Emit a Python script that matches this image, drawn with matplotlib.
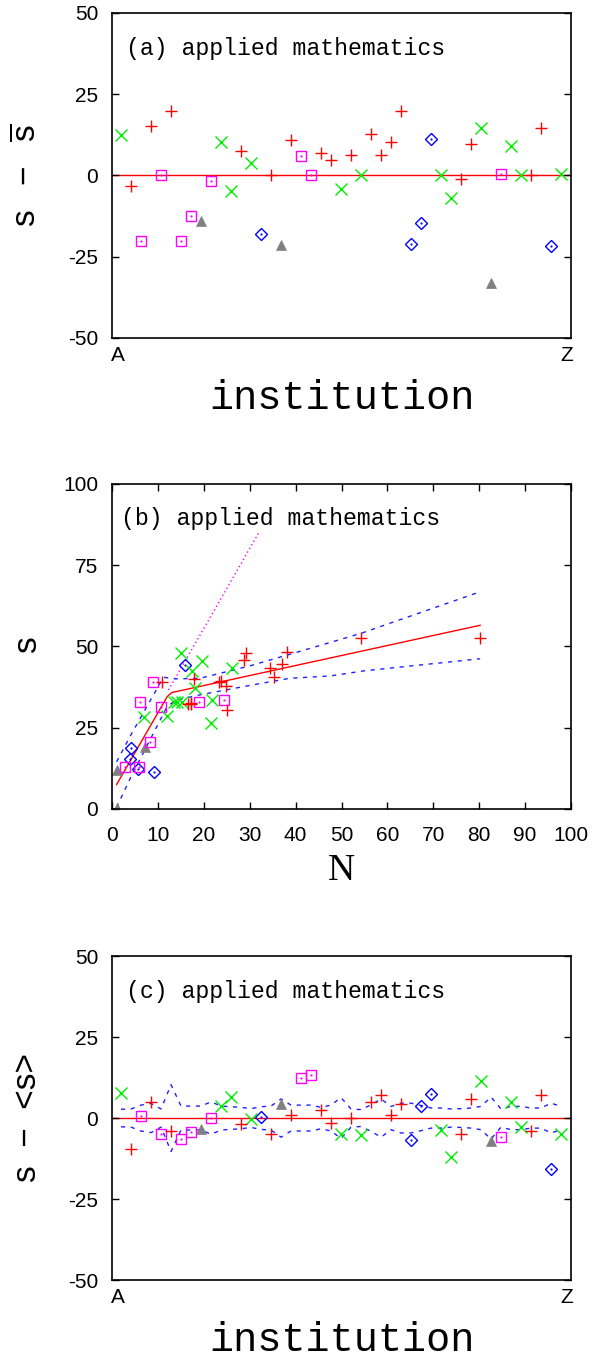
import numpy as np
import matplotlib.pyplot as plt

plt.rcParams['font.family'] = ['Liberation Sans', 'DejaVu Sans']
plt.rcParams['mathtext.fontset'] = 'custom'
plt.rcParams['mathtext.rm'] = 'Liberation Sans'
plt.rcParams['axes.unicode_minus'] = False

# marker class of each institution, in A..Z order
inst_class = ['x', '+', 'sq', '+', 'sq', '+', 'sq', 'sq', 'tri', 'sq',
              'x', 'x', '+', 'x', 'dia', '+', 'tri', '+', 'sq', 'sq',
              '+', '+', 'x', '+', 'x', '+', '+', '+', '+', 'dia',
              'dia', 'dia', 'x', 'x', '+', '+', 'x', 'tri', 'sq', 'x',
              'x', '+', '+', 'dia', 'x']

# (a) s - mean(s)
dev_a = [12.5, -3.2, -20.3, 15.3, 0.0, 19.7, -20.3, -12.6, -14.1, -1.8,
         10.4, -4.7, 7.5, 3.8, -18.0, 0.0, -21.5, 11.0, 6.1, 0.0,
         6.9, 4.7, -4.1, 6.2, 0.0, 12.6, 6.2, 10.4, 19.7, -21.0,
         -14.5, 11.2, 0.0, -6.9, -1.0, 9.6, 14.7, -33.0, 0.5, 9.0,
         0.0, 0.0, 14.7, -21.8, 0.5]

# (c) s - <s> and the band width
dev_c = [7.8, -9.4, 0.5, 4.9, -4.8, -4.0, -6.4, -4.4, -3.3, 0.1,
         3.7, 6.5, -1.9, -0.2, 0.3, -4.8, 4.4, 0.9, 12.3, 13.2,
         2.4, -1.6, -5.0, 0.1, -5.1, 5.1, 7.2, 1.0, 4.2, -6.9,
         3.8, 7.5, -3.6, -12.0, -4.8, 5.9, 11.4, -7.0, -5.7, 4.9,
         -2.8, -4.0, 7.0, -15.7, -5.0]
sigma_c = [2.7, 2.8, 4.0, 4.5, 2.8, 10.3, 3.7, 3.7, 3.7, 5.0,
           3.7, 3.5, 3.3, 2.9, 3.5, 3.7, 5.9, 4.0, 4.0, 4.0,
           3.3, 4.0, 6.3, 2.8, 2.6, 4.1, 5.9, 3.6, 4.6, 4.6,
           3.9, 3.1, 3.1, 2.8, 2.9, 3.1, 3.6, 6.5, 2.8, 3.6,
           3.6, 3.1, 3.1, 4.6, 3.6]

# (b) s vs N, by marker class
N_b = {
    '+': [10.8, 16.6, 17.1, 17.9, 23.3, 24.8, 25.0, 28.8, 29.1, 34.4,
          35.3, 37.0, 38.1, 54.2, 80.2, 17.3, 23.8],
    'x': [6.9, 11.9, 15.0, 17.4, 19.7, 18.1, 13.4, 15.3, 21.7, 21.5,
          26.1, 14.2],
    'sq': [2.9, 5.8, 8.2, 6.1, 9.0, 10.6, 19.0, 24.4],
    'dia': [4.1, 4.0, 5.7, 9.1, 16.0],
    'tri': [1.0, 1.0, 7.1],
}
s_b = {
    '+': [39.2, 32.2, 32.2, 39.9, 39.1, 37.8, 30.3, 45.8, 47.9, 43.3,
          40.7, 44.5, 48.4, 52.7, 52.7, 32.6, 39.4],
    'x': [28.4, 28.6, 47.9, 42.3, 45.6, 37.1, 32.8, 32.8, 33.5, 26.4,
          43.5, 33.0],
    'sq': [12.8, 12.8, 20.7, 32.8, 39.2, 31.3, 32.8, 33.5],
    'dia': [18.7, 15.3, 12.3, 11.4, 44.3],
    'tri': [0.3, 12.0, 19.0],
}

# fitted segmented line and its band
fit_N = [1.0, 12.0, 13.0, 80.2]
fit_s = [7.5, 34.5, 35.8, 56.5]
up_N = [1.0, 4.0, 8.0, 11.2, 14.0, 19.2, 30.0, 38.8, 47.5, 54.2, 80.2]
up_s = [14.5, 22.5, 32.5, 40.5, 40.0, 40.2, 44.0, 47.6, 51.2, 54.0, 66.8]
lo_N = [1.0, 4.0, 8.0, 12.0, 14.0, 19.2, 30.0, 38.8, 47.5, 55.0, 80.2]
lo_s = [0.5, 9.5, 20.5, 31.5, 33.5, 35.1, 38.0, 40.2, 40.9, 42.5, 46.2]
ext_N = [12.3, 31.9]
ext_s = [36.6, 84.8]

styles = {
    '+': dict(marker='+', color='#ff0000', ms=9, mew=1.0),
    'x': dict(marker='x', color='#00ee00', ms=8.5, mew=1.0),
    'sq': dict(marker='s', color='#ff00ff', ms=7.8, mew=1.0, mfc='none'),
    'dia': dict(marker='D', color='#0000ff', ms=5.7, mew=1.0, mfc='none'),
    'tri': dict(marker='^', color='#808080', ms=7.0, mew=0.5),
}
order = ['tri', 'dia', 'sq', 'x', '+']

mono = 'Liberation Mono'


def draw_points(ax, xs, ys, cls):
    ax.plot(xs, ys, ls='none', **styles[cls])
    if cls in ('sq', 'dia'):
        ax.plot(xs, ys, ls='none', marker='.', ms=1.2, color=styles[cls]['color'])


def style_axes(ax):
    for sp in ax.spines.values():
        sp.set_linewidth(1.2)
    ax.tick_params(direction='in', length=5, width=1, labelsize=15,
                   top=True, right=True)


def institution_panel(ax, vals, tag):
    x = np.arange(1, len(vals) + 1)
    vals = np.array(vals)
    cls = np.array(inst_class)
    ax.axhline(0, color='#ff0000', lw=1.0, zorder=1)
    for c in order:
        m = cls == c
        draw_points(ax, x[m], vals[m], c)
    ax.set_xlim(0.1, 46.0)
    ax.set_ylim(-50, 50)
    ax.set_yticks([-50, -25, 0, 25, 50])
    ax.set_xticks([0.7, 45.6])
    ax.set_xticklabels(['A', 'Z'])
    style_axes(ax)
    ax.tick_params(axis='y', pad=10)
    ax.tick_params(axis='x', length=0, pad=6)
    ax.text(0.0305, 0.892, tag + ' applied mathematics', transform=ax.transAxes,
            family=mono, fontsize=16.7, va='center', ha='left')


fig = plt.figure(figsize=(5.94, 13.6), dpi=100)
ax_a = fig.add_axes([0.1886, 0.7515, 0.7727, 0.2390])
ax_b = fig.add_axes([0.1886, 0.4052, 0.7727, 0.2390])
ax_c = fig.add_axes([0.1886, 0.0588, 0.7727, 0.2382])

# (a)
institution_panel(ax_a, dev_a, '(a)')

# (b)
ax_b.plot(ext_N, ext_s, ls=(0, (1, 2)), color='#ff00ff', lw=1.0)
ax_b.plot(up_N, up_s, ls=(0, (3, 4)), color='#2020ff', lw=1.0)
ax_b.plot(lo_N, lo_s, ls=(0, (3, 4)), color='#2020ff', lw=1.0)
ax_b.plot(fit_N, fit_s, color='#ff0000', lw=1.0)
for c in order:
    draw_points(ax_b, N_b[c], s_b[c], c)
ax_b.set_xlim(0, 100)
ax_b.set_ylim(0, 100)
ax_b.set_xticks(np.arange(0, 101, 10))
ax_b.set_yticks([0, 25, 50, 75, 100])
style_axes(ax_b)
ax_b.tick_params(axis='y', pad=10)
ax_b.tick_params(axis='x', pad=12)
ax_b.text(0.02, 0.895, '(b) applied mathematics', transform=ax_b.transAxes,
          family=mono, fontsize=16.7, va='center', ha='left')

# (c)
xc = np.arange(1, len(dev_c) + 1)
sig = np.array(sigma_c)
ax_c.plot(xc, sig, ls=(0, (3, 4)), color='#2020ff', lw=1.0)
ax_c.plot(xc, -sig, ls=(0, (3, 4)), color='#2020ff', lw=1.0)
institution_panel(ax_c, dev_c, '(c)')

# axis titles
fig.text(0.575, 0.7074, 'institution', family=mono, fontsize=29,
         ha='center', va='center')
fig.text(0.575, 0.0147, 'institution', family=mono, fontsize=29,
         ha='center', va='center')
fig.text(0.575, 0.360, 'N', family='Liberation Serif', fontsize=27,
         ha='center', va='center')
fig.text(0.047, 0.871, r'$\mathrm{s\;\;-\;\;\overline{s}}$', fontsize=24,
         rotation=90, ha='center', va='center')
fig.text(0.047, 0.5257, 's', fontsize=24, rotation=90, ha='center', va='center')
fig.text(0.047, 0.178, 's  \u2212  <s>', fontsize=24, rotation=90,
         ha='center', va='center')

fig.savefig('out.png', dpi=100)
